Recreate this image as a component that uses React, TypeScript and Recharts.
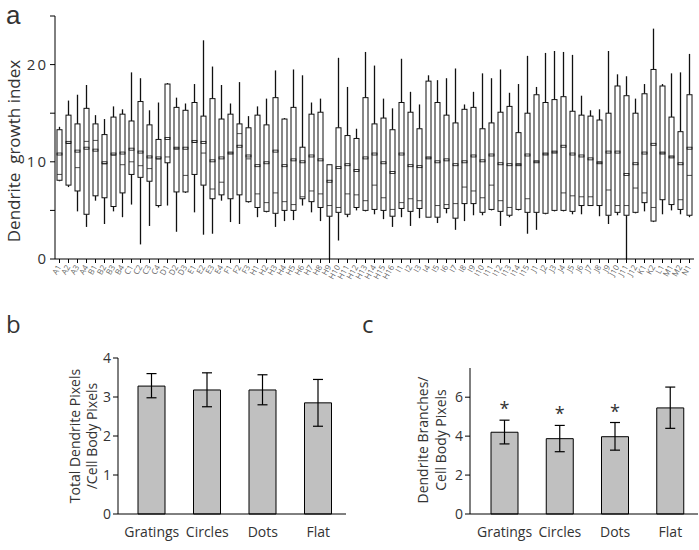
import React from 'react';
import { ComposedChart, Bar, XAxis, YAxis, ErrorBar, LabelList } from 'recharts';

// panel a: dendrite growth index per pattern
const CATEGORIES = [
  'A1', 'A2', 'A3', 'A4', 'B1', 'B2', 'B3', 'B4', 'C1', 'C2', 'C3', 'C4', 'D1', 'D2', 'D3',
  'E1', 'E2', 'E3', 'E4', 'F1', 'F2', 'F3',
  'H1', 'H2', 'H3', 'H4', 'H5', 'H6', 'H7', 'H8', 'H9', 'H10', 'H11', 'H12', 'H13', 'H14', 'H15', 'H16',
  'I1', 'I2', 'I3', 'I4', 'I5', 'I6', 'I7', 'I8', 'I9', 'I10', 'I11', 'I12', 'I13', 'I14', 'I15',
  'J1', 'J2', 'J3', 'J4', 'J5', 'J6', 'J7', 'J8', 'J9', 'J10', 'J11', 'J12',
  'K1', 'K2', 'L1', 'M1', 'M2', 'N1',
];
const WHISKER_LOW = [
  8.0, 7.4, 4.9, 3.3, 6.0, 3.6, 4.9, 4.3, 5.6, 1.5, 3.4, 5.3, 5.5, 2.8, 6.8,
  4.8, 2.5, 2.6, 6.0, 3.8, 3.6, 5.8,
  4.3, 4.8, 3.3, 3.9, 4.0, 5.5, 4.8, 3.9, 0, 1.9, 4.3, 5.0, 4.9, 4.6, 4.1, 3.3,
  4.3, 3.4, 4.2, 4.3, 3.7, 4.7, 3.0, 3.9, 4.5, 4.5, 5.0, 3.4, 4.3, 5.0, 2.6,
  3.0, 4.6, 4.9, 4.9, 4.6, 4.6, 5.5, 4.4, 3.6, 4.5, 0, 4.7,
  4.9, 3.8, 4.6, 5.0, 4.6, 4.3,
];
const Q1 = [
  8.1, 7.6, 7.0, 4.6, 6.5, 6.3, 5.4, 6.8, 8.7, 8.4, 8.0, 5.5, 9.9, 6.9, 6.9,
  8.7, 7.6, 6.2, 6.6, 6.2, 6.6, 5.9,
  5.3, 4.9, 4.7, 5.0, 5.0, 6.2, 5.9, 5.3, 4.4, 4.8, 4.6, 5.3, 5.0, 5.1, 5.0, 4.4,
  5.2, 4.9, 5.2, 4.3, 4.3, 5.2, 4.2, 5.7, 5.7, 4.8, 5.1, 4.9, 4.5, 5.1, 4.8,
  4.8, 4.7, 5.0, 5.0, 4.9, 5.5, 5.5, 5.5, 4.5, 4.8, 4.5, 4.8,
  5.8, 3.9, 6.1, 5.6, 5.1, 4.5,
];
const MEDIAN = [
  8.7, 11.9, 9.4, 12.1, 12.2, 9.8, 10.7, 9.7, 10.0, 9.6, 9.3, 10.3, 10.5, 11.4, 8.6,
  12.0, 10.9, 7.2, 7.9, 10.9, 12.9, 10.3,
  6.7, 5.8, 6.8, 5.9, 5.6, 6.4, 7.0, 6.7, 5.5, 5.3, 6.7, 6.6, 6.0, 7.6, 6.3, 5.1,
  5.8, 6.2, 6.0, 10.4, 5.5, 5.6, 5.7, 7.4, 7.0, 6.3, 7.6, 6.0, 5.3, 9.7, 6.2,
  10.0, 10.8, 11.0, 6.8, 6.5, 6.4, 6.4, 9.9, 7.1, 5.5, 5.5, 7.3,
  6.8, 5.3, 10.9, 10.5, 6.1, 8.6,
];
const MEAN = [
  10.8, 12.0, 11.1, 11.4, 11.2, 9.9, 10.8, 10.9, 11.3, 11.0, 10.5, 10.4, 12.4, 11.4, 11.4,
  12.1, 12.0, 10.1, 10.4, 10.9, 11.6, 10.6,
  9.6, 9.9, 11.1, 9.6, 10.2, 10.0, 10.6, 10.2, 8.0, 9.4, 9.7, 9.1, 10.4, 10.8, 9.9, 8.9,
  10.8, 9.6, 9.5, 10.4, 10.0, 10.2, 9.7, 10.0, 10.6, 10.1, 10.7, 9.8, 9.7, 9.7, 10.7,
  10.0, 10.8, 11.0, 11.6, 10.8, 10.6, 10.3, 9.9, 11.0, 11.0, 8.7, 9.8,
  10.9, 11.8, 10.9, 10.5, 9.8, 11.4,
];
const Q3 = [
  13.3, 14.8, 13.9, 15.5, 13.9, 12.8, 14.6, 14.9, 14.2, 16.2, 13.8, 12.3, 18.0, 15.6, 15.3,
  16.1, 14.7, 16.5, 14.4, 14.9, 13.9, 13.5,
  14.8, 13.8, 16.6, 14.4, 15.6, 11.5, 14.9, 15.1, 9.7, 13.5, 12.7, 12.4, 16.6, 13.9, 14.5, 13.3,
  16.1, 15.1, 13.4, 18.3, 16.1, 14.8, 14.0, 15.4, 15.6, 13.4, 14.0, 15.1, 15.7, 13.0, 15.0,
  16.9, 16.1, 16.4, 16.7, 15.2, 14.8, 14.7, 14.3, 15.0, 17.8, 16.8, 15.0,
  17.0, 19.5, 17.8, 14.6, 13.1, 16.9,
];
const WHISKER_HIGH = [
  13.6, 16.3, 16.9, 17.9, 14.8, 14.4, 15.7, 15.4, 19.2, 18.6, 15.3, 16.1, 18.1, 16.6, 16.0,
  18.0, 22.5, 19.8, 17.9, 16.0, 18.2, 14.7,
  15.7, 16.5, 19.4, 14.5, 19.5, 18.9, 16.1, 16.5, 9.7, 20.7, 17.7, 13.4, 21.3, 19.9, 16.5, 15.5,
  20.6, 17.2, 15.9, 18.9, 18.4, 18.6, 19.6, 15.9, 17.2, 19.1, 18.6, 19.5, 17.1, 18.0, 20.9,
  17.7, 21.2, 21.4, 21.3, 21.0, 16.8, 15.3, 15.4, 21.4, 19.0, 18.8, 16.5,
  18.0, 23.7, 18.0, 19.1, 19.2, 21.1,
];
const GROWTH_TICKS = [0, 5, 10, 15, 20, 25];

// panels b and c
const CONDITIONS = ['Gratings', 'Circles', 'Dots', 'Flat'];
const TOTAL_PIXELS = [3.28, 3.18, 3.18, 2.85];
const TOTAL_PIXELS_LOW = [2.98, 2.75, 2.8, 2.25];
const TOTAL_PIXELS_HIGH = [3.6, 3.62, 3.57, 3.45];
const BRANCHES = [4.2, 3.87, 3.97, 5.45];
const BRANCHES_LOW = [3.6, 3.2, 3.28, 4.4];
const BRANCHES_HIGH = [4.82, 4.55, 4.7, 6.52];
const BRANCH_SIGNIF = ['*', '*', '*', ''];

const FONT = '"Open Sans", "Noto Sans", sans-serif';
const TEXT = '#333';

const boxData = CATEGORIES.map((name, i) => ({
  name,
  lo: WHISKER_LOW[i],
  q1: Q1[i],
  median: MEDIAN[i],
  mean: MEAN[i],
  q3: Q3[i],
  hi: WHISKER_HIGH[i],
}));

const pixelData = CONDITIONS.map((name, i) => ({
  name,
  value: TOTAL_PIXELS[i],
  err: [TOTAL_PIXELS[i] - TOTAL_PIXELS_LOW[i], TOTAL_PIXELS_HIGH[i] - TOTAL_PIXELS[i]],
}));

const branchData = CONDITIONS.map((name, i) => ({
  name,
  value: BRANCHES[i],
  err: [BRANCHES[i] - BRANCHES_LOW[i], BRANCHES_HIGH[i] - BRANCHES[i]],
  hi: BRANCHES_HIGH[i],
  mark: BRANCH_SIGNIF[i],
}));

// the bar spans whisker low..high; inner marks are placed on that same scale
function BoxShape(props: any) {
  const { x, y, width, height, payload } = props;
  if (!payload) return null;
  const top = Math.min(y, y + height);
  const h = Math.abs(height);
  const span = payload.hi - payload.lo || 1;
  const py = (v: number) => top + (h * (payload.hi - v)) / span;
  const cx = x + width / 2;
  return (
    <g>
      <line x1={cx} x2={cx} y1={py(payload.hi)} y2={py(payload.q3)} stroke="#111" strokeWidth={1.3} />
      <line x1={cx} x2={cx} y1={py(payload.q1)} y2={py(payload.lo)} stroke="#111" strokeWidth={1.3} />
      <rect x={x} y={py(payload.q3)} width={width} height={py(payload.q1) - py(payload.q3)} fill="#fff" stroke="#111" strokeWidth={1} />
      <line x1={x} x2={x + width} y1={py(payload.median)} y2={py(payload.median)} stroke="#222" strokeWidth={0.8} />
      <rect x={x} y={py(payload.mean) - 1} width={width} height={2} fill="none" stroke="#111" strokeWidth={0.8} />
    </g>
  );
}

function SlantTick(props: any) {
  const { x, y, payload } = props;
  const ty = y + 2;
  return (
    <text x={x + 2} y={ty} transform={`rotate(-60 ${x + 2} ${ty})`} textAnchor="end" fontSize={8} fill="#666" fontFamily={FONT}>
      {payload.value}
    </text>
  );
}

function GrowthTick(props: any) {
  const { x, y, payload } = props;
  if (payload.value % 10 !== 0) return null;
  return (
    <text x={x} y={y} dy={5} textAnchor="end" fontSize={15} letterSpacing={2} fill={TEXT} fontFamily={FONT}>
      {payload.value}
    </text>
  );
}

function Star(props: any) {
  const { x, y, width, height, index } = props;
  const row = branchData[index];
  if (!row || !row.mark) return null;
  const perUnit = height / row.value;
  const capY = y - (row.hi - row.value) * perUnit;
  return (
    <text x={x + width / 2} y={capY - 5} textAnchor="middle" fontSize={18} fill={TEXT} fontFamily={FONT}>
      {row.mark}
    </text>
  );
}

const tickStyle = { fill: TEXT, fontSize: 14, fontFamily: FONT };

export default function App() {
  return (
    <div style={{ position: 'absolute', left: 0, top: 0, width: 699, height: 550, background: '#fff', fontFamily: FONT }}>
      <div style={{ position: 'absolute', left: 0, top: 0 }}>
        <ComposedChart width={699} height={300} data={boxData} margin={{ top: 16, right: 5, left: 0, bottom: 0 }}>
          <XAxis dataKey="name" interval={0} height={41} tick={<SlantTick />} tickSize={4} stroke="#000" />
          <YAxis
            domain={[0, 25]}
            ticks={GROWTH_TICKS}
            width={55}
            tickSize={5}
            tickMargin={2}
            tick={<GrowthTick />}
            stroke="#000"
          />
          <Bar dataKey={(d: any) => [d.lo, d.hi]} barSize={5} shape={<BoxShape />} isAnimationActive={false} />
        </ComposedChart>
      </div>

      <div style={{ position: 'absolute', left: 0, top: 340 }}>
        <ComposedChart width={350} height={210} data={pixelData} margin={{ top: 18, right: 4, left: 0, bottom: 0 }}>
          <XAxis dataKey="name" height={36} tick={tickStyle} tickLine={false} tickMargin={7} stroke="#000" padding={{ left: 6, right: 0 }} />
          <YAxis domain={[0, 4]} ticks={[0, 1, 2, 3, 4]} width={118} tickSize={5} tick={tickStyle} stroke="#000" />
          <Bar dataKey="value" barSize={27} fill="#c0c0c0" stroke="#000" strokeWidth={1} isAnimationActive={false}>
            <ErrorBar dataKey="err" width={5} stroke="#000" strokeWidth={1.2} direction="y" />
          </Bar>
        </ComposedChart>
      </div>

      <div style={{ position: 'absolute', left: 350, top: 340 }}>
        <ComposedChart width={349} height={210} data={branchData} margin={{ top: 28, right: 1, left: 0, bottom: 0 }}>
          <XAxis dataKey="name" height={36} tick={tickStyle} tickLine={false} tickMargin={7} stroke="#000" padding={{ left: 7, right: 0 }} />
          <YAxis domain={[0, 7.5]} ticks={[0, 2, 4, 6]} width={120} tickSize={5} tick={tickStyle} stroke="#000" />
          <Bar dataKey="value" barSize={27} fill="#c0c0c0" stroke="#000" strokeWidth={1} isAnimationActive={false}>
            <ErrorBar dataKey="err" width={5} stroke="#000" strokeWidth={1.2} direction="y" />
            <LabelList dataKey="value" content={<Star />} />
          </Bar>
        </ComposedChart>
      </div>

      <svg width={699} height={550} style={{ position: 'absolute', left: 0, top: 0, pointerEvents: 'none' }}>
        <g fontFamily={FONT} fill={TEXT}>
          <text x={6} y={24} fontSize={26} fontFamily='"Liberation Sans", sans-serif'>a</text>
          <text x={6} y={333} fontSize={24}>b</text>
          <text x={362} y={333} fontSize={24}>c</text>
          <text x={20} y={151} fontSize={17} textAnchor="middle" style={{ whiteSpace: 'pre' }} transform="rotate(-90 20 151)">
            {'Dendrite  growth index'}
          </text>
          <text x={80} y={436} fontSize={14} textAnchor="middle" transform="rotate(-90 80 436)">Total Dendrite Pixels</text>
          <text x={97} y={436} fontSize={14} textAnchor="middle" transform="rotate(-90 97 436)">/Cell Body Pixels</text>
          <text x={428} y={440} fontSize={14} textAnchor="middle" transform="rotate(-90 428 440)">Dendrite Branches/</text>
          <text x={446} y={440} fontSize={14} textAnchor="middle" transform="rotate(-90 446 440)">Cell Body Pixels</text>
        </g>
      </svg>
    </div>
  );
}
